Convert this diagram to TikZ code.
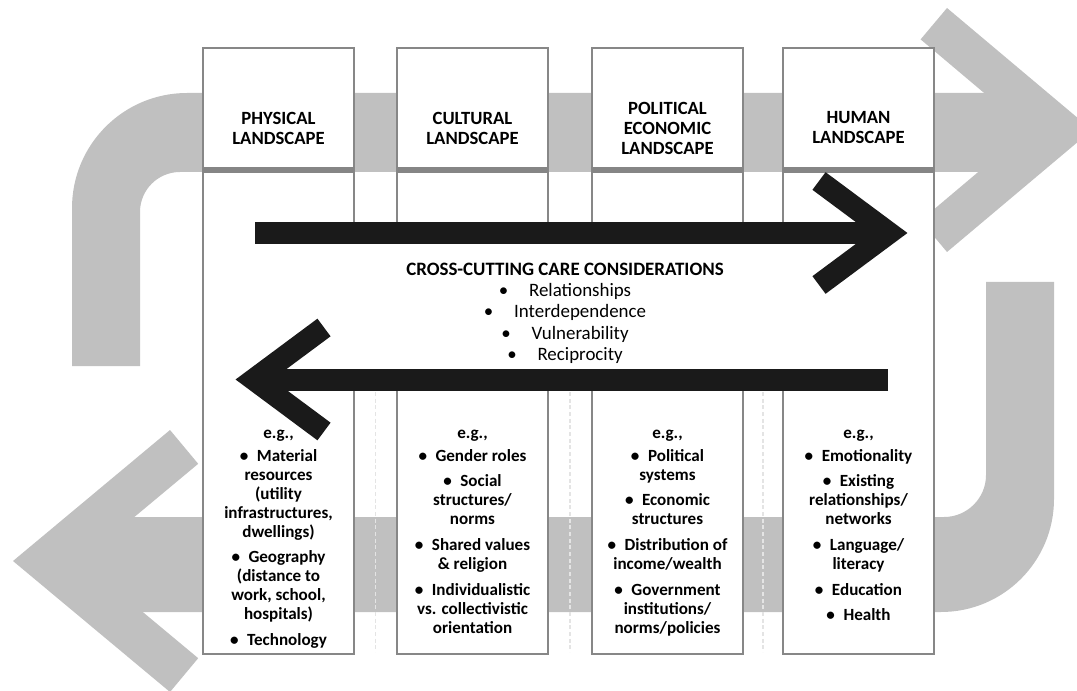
\documentclass[tikz,border=0pt]{standalone}
\usepackage{fontspec}
\setmainfont{Carlito}
\definecolor{bandgray}{HTML}{C0C0C0}
\definecolor{boxgray}{HTML}{878787}
\definecolor{stripegray}{HTML}{858585}
\definecolor{arrowblack}{HTML}{1A1A1A}
\definecolor{dashgray}{HTML}{E4E4E4}
\newcommand{\itm}{\textbullet\enspace}
\newcommand{\ccitm}{\textbullet\hspace{1.1em}}
\begin{document}
\begin{tikzpicture}[x=0.75pt,y=-0.75pt,
    col/.style={draw=boxgray,line width=1.3pt,fill=white},
    stripe/.style={draw=stripegray,line width=4.5pt},
    gapline/.style={draw=dashgray,line width=1pt,dash pattern=on 3pt off 2pt},
    head/.style={align=center,font=\fontsize{14}{15}\selectfont\bfseries},
    body/.style={anchor=north,align=center,font=\fontsize{12.8}{14.25}\selectfont\bfseries},
    fat/.style={draw=arrowblack,line width=16.5pt}]
  \useasboundingbox (0,0) rectangle (1077,691);
  \begin{scope}[bandgray]
    \fill (72,366) -- (72,208) arc[start angle=180,end angle=270,radius=115]
      -- (1035,93) -- (1035,172) -- (180,172) arc[start angle=270,end angle=180,radius=40]
      -- (140,366) -- cycle;
    \fill (947,8) -- (1092,130) -- (947,252) -- (920.6,220.6) -- (1028,130) -- (920.6,39.4) -- cycle;
    \fill (1054,282) -- (1054,499) arc[start angle=0,end angle=90,radius=113]
      -- (76,612) -- (76,517) -- (944,517) arc[start angle=90,end angle=0,radius=42]
      -- (986,282) -- cycle;
    \fill (170,430) -- (13,561) -- (170,692) -- (198.2,658.2) -- (81.6,561) -- (198.2,463.8) -- cycle;
  \end{scope}
  \draw[col] (203,48) rectangle (354,654);
  \draw[col] (397,48) rectangle (548,654);
  \draw[col] (592,48) rectangle (743,654);
  \draw[col] (783,48) rectangle (934,654);
  \fill[white] (204.5,240) rectangle (932.5,372);
  \draw[stripe] (203,170) -- (354,170);
  \draw[stripe] (397,170) -- (548,170);
  \draw[stripe] (592,170) -- (743,170);
  \draw[stripe] (783,170) -- (934,170);
  \draw[gapline] (375.5,392) -- (375.5,652);
  \draw[gapline] (570,392) -- (570,652);
  \draw[gapline] (763,392) -- (763,652);
  \node[head] (phys) at (278.5,128) {PHYSICAL\\LANDSCAPE};
  \node[head] (cult) at (472.5,128) {CULTURAL\\LANDSCAPE};
  \node[head] (poli) at (667.5,128) {POLITICAL\\ECONOMIC\\LANDSCAPE};
  \node[head] (hum) at (858.5,128) {HUMAN\\LANDSCAPE};
  \node[align=center,font=\fontsize{14.2}{16}\selectfont] (care) at (565,313)
    {\textbf{CROSS-CUTTING CARE CONSIDERATIONS}\\
     \ccitm Relationships\\
     \ccitm Interdependence\\
     \ccitm Vulnerability\\
     \ccitm Reciprocity};
  \node[body] (physeg) at (278.5,425) {e.g.,\\[3pt]
    \itm Material\\resources\\(utility\\infrastructures,\\dwellings)\\[5pt]
    \itm Geography\\(distance to\\work, school,\\hospitals)\\[5pt]
    \itm Technology};
  \node[body] (culteg) at (472.5,425) {e.g.,\\[3pt]
    \itm Gender roles\\[5pt]
    \itm Social\\structures/\\norms\\[5pt]
    \itm Shared values\\\& religion\\[5pt]
    \itm Individualistic\\vs. collectivistic\\orientation};
  \node[body] (polieg) at (667.5,425) {e.g.,\\[3pt]
    \itm Political\\systems\\[5pt]
    \itm Economic\\structures\\[5pt]
    \itm Distribution of\\income/wealth\\[5pt]
    \itm Government\\institutions/\\norms/policies};
  \node[body] (humeg) at (858.5,425) {e.g.,\\[3pt]
    \itm Emotionality\\[5pt]
    \itm Existing\\relationships/\\networks\\[5pt]
    \itm Language/\\literacy\\[5pt]
    \itm Education\\[5pt]
    \itm Health};
  \draw[fat] (255,233) -- (889,233);
  \draw[fat,line join=miter] (819,181) -- (889,233) -- (819,285);
  \draw[fat] (888,379.5) -- (254,379.5);
  \draw[fat,line join=miter] (324,327.5) -- (254,379.5) -- (324,431.5);
\end{tikzpicture}
\end{document}
